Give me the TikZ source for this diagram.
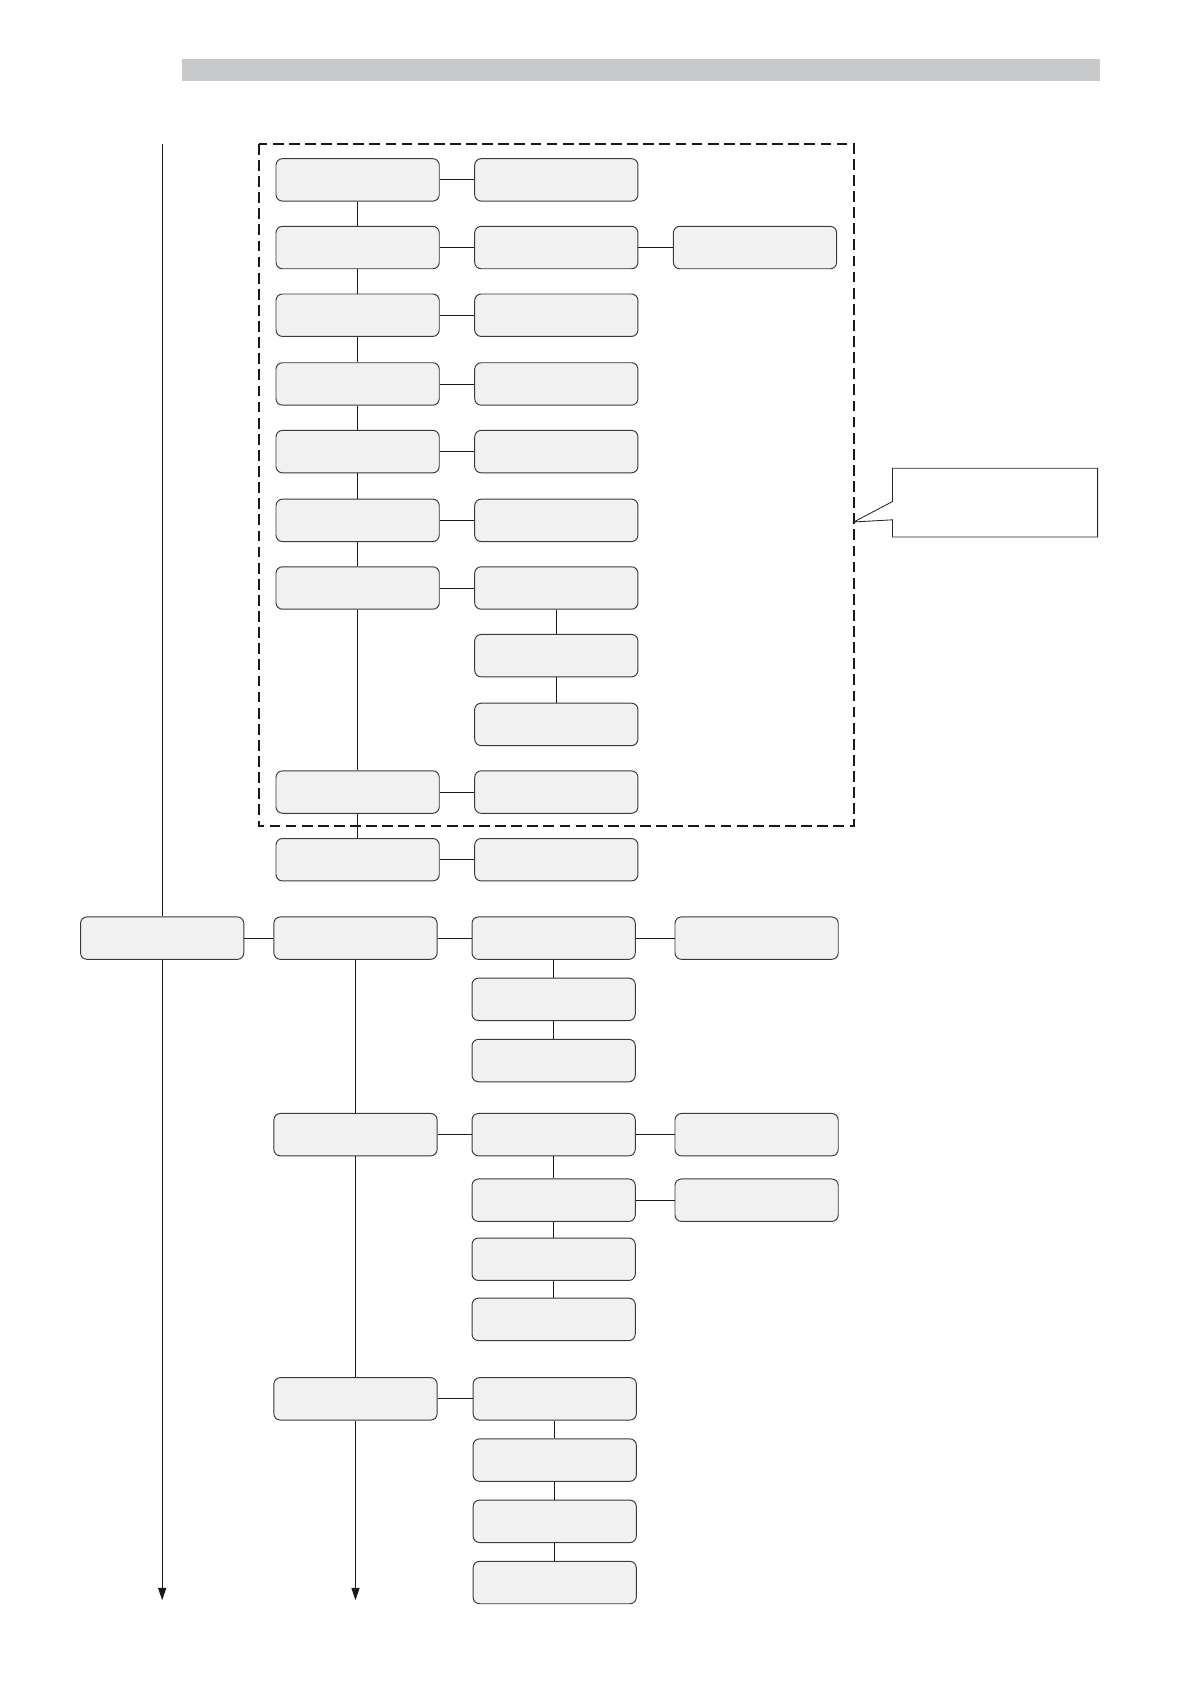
\documentclass[tikz,border=0pt]{standalone}
\usepackage{xcolor}
\usetikzlibrary{arrows.meta}

\definecolor{cellfill}{HTML}{F1F1F1}
\definecolor{cellline}{HTML}{3A3A3A}
\definecolor{barfill}{HTML}{C8C9CA}

\begin{document}
\begin{tikzpicture}[
    x=1pt, y=-1pt,
    >={Triangle[width=7.5pt,length=11.5pt]},
    cell/.style={draw=cellline, line width=0.9pt, rounded corners=6pt, fill=cellfill,
      minimum width=152pt, minimum height=39.5pt, inner sep=0pt},
    link/.style={draw=black!90, line width=0.8pt},
    arr/.style={->, draw=black!90, line width=0.8pt},
    frame/.style={draw=black!90, line width=1.6pt, dash pattern=on 10pt off 5pt},
    note/.style={draw=black!85, line width=0.8pt, fill=white},
  ]
    \useasboundingbox (0,0) rectangle (1108,1568);

    % --- header bar ---
    \fill[barfill] (169,55) rectangle (1024,75);

    % --- timeline ---
    \coordinate (t0) at (151,134);
    \coordinate (t1) at (151,1490);
    \coordinate (u1) at (331,1490);

    % --- dashed group ---
    \draw[frame] (241,134) rectangle (795,769);

    % --- callout ---
    \coordinate (tip) at (795,486);
    \draw[note] (831,436) -- (1022,436) -- (1022,500) -- (831,500)
      -- (831,484) -- (tip) -- (831,467) -- cycle;

    % --- upper column A ---
    \node[cell] (a1) at (333,167.5) {};
    \node[cell] (a2) at (333,230.5) {};
    \node[cell] (a3) at (333,293.5) {};
    \node[cell] (a4) at (333,357.5) {};
    \node[cell] (a5) at (333,420.5) {};
    \node[cell] (a6) at (333,484.5) {};
    \node[cell] (a7) at (333,547.5) {};
    \node[cell] (a8) at (333,737.5) {};
    \node[cell] (a9) at (333,800.5) {};

    % --- upper column B ---
    \node[cell] (b1) at (518,167.5) {};
    \node[cell] (b2) at (518,230.5) {};
    \node[cell] (b3) at (518,293.5) {};
    \node[cell] (b4) at (518,357.5) {};
    \node[cell] (b5) at (518,420.5) {};
    \node[cell] (b6) at (518,484.5) {};
    \node[cell] (b7) at (518,547.5) {};
    \node[cell] (b8) at (518,610.5) {};
    \node[cell] (b9) at (518,674.5) {};
    \node[cell] (b10) at (518,737.5) {};
    \node[cell] (b11) at (518,800.5) {};

    \node[cell] (c2) at (703,230.5) {};

    % --- lower part ---
    \node[cell] (d) at (151,873.5) {};

    \node[cell] (e1) at (331,873.5) {};
    \node[cell] (e2) at (331,1056.5) {};
    \node[cell] (e3) at (331,1302.5) {};

    \node[cell] (f1) at (515.5,873.5) {};
    \node[cell] (f2) at (515.5,930.5) {};
    \node[cell] (f3) at (515.5,987.5) {};
    \node[cell] (f4) at (515.5,1056.5) {};
    \node[cell] (f5) at (515.5,1117.5) {};
    \node[cell] (f6) at (515.5,1172.5) {};
    \node[cell] (f7) at (515.5,1228.5) {};

    \node[cell] (g1) at (516.5,1302.5) {};
    \node[cell] (g2) at (516.5,1359.5) {};
    \node[cell] (g3) at (516.5,1416.5) {};
    \node[cell] (g4) at (516.5,1473.5) {};

    \node[cell] (h1) at (704.5,873.5) {};
    \node[cell] (h2) at (704.5,1056.5) {};
    \node[cell] (h3) at (704.5,1117.5) {};

    % --- upper links ---
    \draw[link] (a1) -- (a2) -- (a3) -- (a4) -- (a5) -- (a6) -- (a7) -- (a8) -- (a9);
    \foreach \i in {1,...,7} {
      \draw[link] (a\i) -- (b\i);
    }
    \draw[link] (a8) -- (b10);
    \draw[link] (a9) -- (b11);
    \draw[link] (b2) -- (c2);
    \draw[link] (b7) -- (b8) -- (b9);

    % --- timeline arrows ---
    \draw[link] (t0) -- (d);
    \draw[arr] (d) -- (t1);
    \draw[link] (e1) -- (e2) -- (e3);
    \draw[arr] (e3) -- (u1);

    % --- lower links ---
    \draw[link] (d) -- (e1);
    \draw[link] (e1) -- (f1);
    \draw[link] (f1) -- (h1);
    \draw[link] (f1) -- (f2) -- (f3);
    \draw[link] (e2) -- (f4);
    \draw[link] (f4) -- (h2);
    \draw[link] (f5) -- (h3);
    \draw[link] (f4) -- (f5) -- (f6) -- (f7);
    \draw[link] (e3) -- (g1);
    \draw[link] (g1) -- (g2) -- (g3) -- (g4);
\end{tikzpicture}
\end{document}
